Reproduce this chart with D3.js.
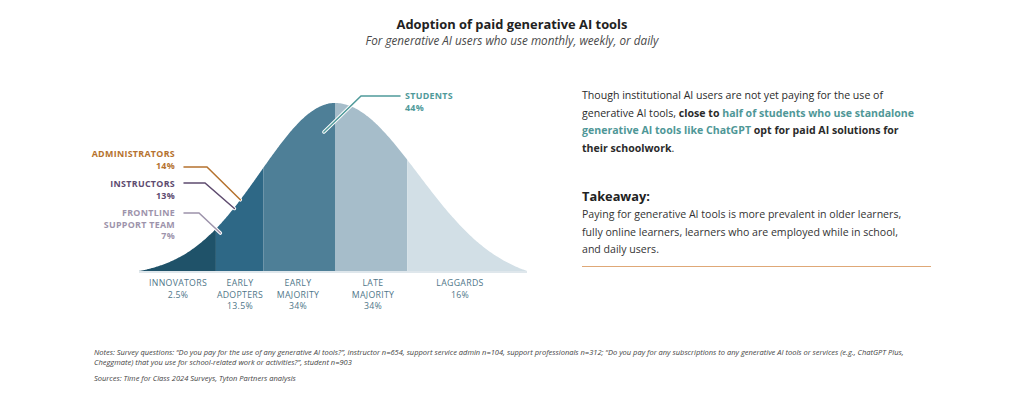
<!DOCTYPE html>
<html>
<head>
<meta charset="utf-8">
<script src="https://cdn.jsdelivr.net/npm/d3@7"></script>
<style>
  html, body { margin: 0; padding: 0; background: #fff; }
  svg { display: block; font-family: "Open Sans", Lato, sans-serif; }
</style>
</head>
<body>
<svg id="chart" width="1024" height="398"></svg>
<script>
// adoption segments (boundaries in standard deviations from the mean)
const segmentNames = [["INNOVATORS"], ["EARLY", "ADOPTERS"], ["EARLY", "MAJORITY"], ["LATE", "MAJORITY"], ["LAGGARDS"]];
const segmentShares = ["2.5%", "13.5%", "34%", "34%", "16%"];
const segmentStarts = [-2.65, -1.61, -0.97, 0, 0.87];
const segmentEnds = [-1.61, -0.97, 0, 0.87, 2.31];
const segmentColors = ["#1f5269", "#2e6886", "#4e7f97", "#a6bdca", "#d2dfe6"];

// where each group sits on the curve
const groupNames = [["STUDENTS"], ["ADMINISTRATORS"], ["INSTRUCTORS"], ["FRONTLINE", "SUPPORT TEAM"]];
const groupValues = ["44%", "14%", "13%", "7%"];
const groupSigma = [-0.15, -1.28, -1.36, -1.55];
const groupColors = ["#4f9a9a", "#b5722e", "#5e4b6f", "#9d93ab"];

const svg = d3.select("#chart");
const W = 1024;

// scale a text's font so that `part` (the text itself or one of its tspans) spans the width
function fit(sel, width, part) {
  const w = (part || sel).node().getComputedTextLength();
  const fs = +sel.attr("font-size");
  sel.attr("font-size", (fs * width / w).toFixed(2));
  return +sel.attr("font-size");
}

// title
const title = svg.append("text").attr("x", W / 2).attr("y", 29).attr("text-anchor", "middle")
  .attr("font-size", 14).attr("font-weight", 700).attr("fill", "#222")
  .text("Adoption of paid generative AI tools");
fit(title, 231);
const sub = svg.append("text").attr("x", W / 2).attr("y", 44.5).attr("text-anchor", "middle")
  .attr("font-size", 11).attr("font-style", "italic").attr("fill", "#4a4a4a")
  .text("For generative AI users who use monthly, weekly, or daily");
fit(sub, 293);

// curve: left and right halves use slightly different spreads
const x = d3.scaleLinear().domain([-2.65, 0, 2.31]).range([139, 335, 527]);
const y = d3.scaleLinear().domain([0, 1]).range([271, 103]);
const floorL = Math.exp(-0.5 * 2.65 * 2.65), floorR = Math.exp(-0.5 * 2.31 * 2.31);
const pdf = s => {
  const f = s < 0 ? floorL : floorR;
  return Math.max(0, (Math.exp(-0.5 * s * s) - f) / (1 - f));
};

const area = d3.area()
  .x(s => x(s)).y0(y(0)).y1(s => y(pdf(s)))
  .curve(d3.curveMonotoneX);

const g = svg.append("g");
segmentStarts.forEach((s0, i) => {
  const s1 = segmentEnds[i];
  const pts = d3.range(0, 61).map(k => s0 + (s1 - s0) * k / 60);
  g.append("path").attr("d", area(pts)).attr("fill", segmentColors[i]);
});

// baseline
g.append("line").attr("x1", x(-2.65)).attr("x2", x(2.31))
  .attr("y1", y(0) + 1).attr("y2", y(0) + 1)
  .attr("stroke", "#dfe7ec").attr("stroke-width", 2);

// segment labels
const segX = [178, 240, 298, 373, 460];
let segSize = 9;
segmentNames.forEach((lines, i) => {
  const cx = segX[i];
  const t = svg.append("text").attr("x", cx).attr("y", 286)
    .attr("text-anchor", "middle").attr("font-size", segSize).attr("fill", "#4f7689")
    .attr("letter-spacing", 0.3);
  lines.concat([segmentShares[i]]).forEach((ln, j) => {
    t.append("tspan").attr("x", cx).attr("dy", j === 0 ? 0 : 11.5).text(ln);
  });
  if (i === 0) segSize = fit(t, 58, t.select("tspan"));
});

// callouts
const calloutDepth = [27, 0, 1, 9];
const calloutLineY = [96, 167, 183, 213];
const calloutKneeX = [361, 207, 205, 199];
const calloutTextY = [99, 157, 187, 216];
let calloutSize = 9;
groupNames.forEach((lines, i) => {
  const ax = x(groupSigma[i]);
  const ay = y(pdf(groupSigma[i])) + calloutDepth[i];
  const ly = calloutLineY[i];
  const pts = i === 0
    ? [[ax, ay], [calloutKneeX[i], ly], [400, ly]]
    : [[ax, ay], [calloutKneeX[i], ly], [184, ly]];
  const tx = i === 0 ? 405 : 175;
  const line = d3.line();
  svg.append("path").attr("d", line(pts)).attr("fill", "none")
    .attr("stroke", "#fff").attr("stroke-width", 3.5).attr("stroke-linecap", "round");
  svg.append("path").attr("d", line(pts)).attr("fill", "none")
    .attr("stroke", groupColors[i]).attr("stroke-width", 1.5).attr("stroke-linecap", "round");
  const t = svg.append("text").attr("x", tx).attr("y", calloutTextY[i])
    .attr("text-anchor", i === 0 ? "start" : "end")
    .attr("font-size", calloutSize).attr("font-weight", 700).attr("fill", groupColors[i])
    .attr("letter-spacing", 0.3);
  lines.concat([groupValues[i]]).forEach((ln, j) => {
    t.append("tspan").attr("x", tx).attr("dy", j === 0 ? 0 : 11.5).text(ln);
  });
  if (i === 0) calloutSize = fit(t, 48, t.select("tspan"));
});

// right-hand commentary
const para1 = [
  [["Though institutional AI users are not yet paying for the use of", 0]],
  [["generative AI tools, ", 0], ["close to ", 1], ["half of students who use standalone", 2]],
  [["generative AI tools like ChatGPT", 2], [" opt for paid AI solutions for", 1]],
  [["their schoolwork", 1], [".", 0]]
];
const styleOf = k => ({ weight: k ? 700 : 400, color: k === 2 ? "#4f9797" : "#2b2b2b" });
let bodySize = 10.5;
para1.forEach((parts, i) => {
  const t = svg.append("text").attr("x", 582).attr("y", 99 + i * 17.6).attr("font-size", bodySize);
  parts.forEach(([txt, k]) => {
    const s = styleOf(k);
    t.append("tspan").attr("font-weight", s.weight).attr("fill", s.color).text(txt);
  });
  if (i === 0) bodySize = fit(t, 301);
});

const take = svg.append("text").attr("x", 582).attr("y", 201).attr("font-size", 13.5)
  .attr("font-weight", 700).attr("fill", "#222").text("Takeaway:");
fit(take, 68);
const para2 = [
  "Paying for generative AI tools is more prevalent in older learners,",
  "fully online learners, learners who are employed while in school,",
  "and daily users."
];
para2.forEach((ln, i) => {
  svg.append("text").attr("x", 582).attr("y", 218 + i * 17.5).attr("font-size", bodySize)
    .attr("fill", "#333").text(ln);
});
svg.append("line").attr("x1", 582).attr("x2", 931).attr("y1", 266.5).attr("y2", 266.5)
  .attr("stroke", "#dfa877").attr("stroke-width", 1);

// notes
const notes = [
  "Notes: Survey questions: \u201cDo you pay for the use of any generative AI tools?\u201d, instructor n=654, support service admin n=104, support professionals n=312; \u201cDo you pay for any subscriptions to any generative AI tools or services (e.g., ChatGPT Plus,",
  "Cheggmate) that you use for school-related work or activities?\u201d, student n=903"
];
let noteSize = 6.6;
notes.forEach((ln, i) => {
  const t = svg.append("text").attr("x", 94).attr("y", 354.5 + i * 10.5).attr("font-size", noteSize)
    .attr("font-style", "italic").attr("fill", "#444").text(ln);
  if (i === 0) noteSize = fit(t, 810);
});
svg.append("text").attr("x", 94).attr("y", 380.5).attr("font-size", noteSize)
  .attr("font-style", "italic").attr("fill", "#444")
  .text("Sources: Time for Class 2024 Surveys, Tyton Partners analysis");
</script>
</body>
</html>
